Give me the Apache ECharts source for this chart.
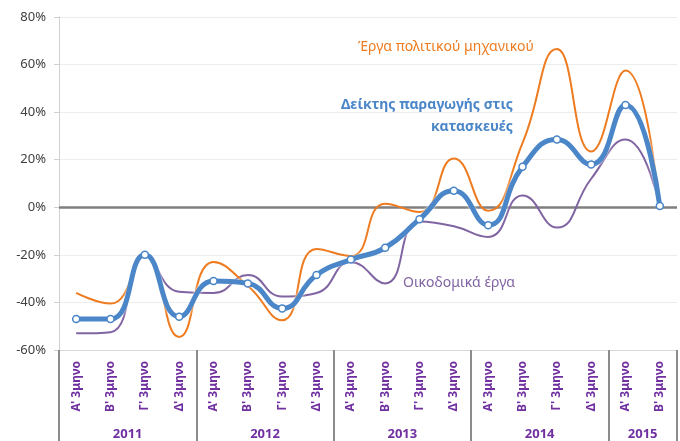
<!DOCTYPE html>
<html>
<head>
<meta charset="utf-8">
<script src="https://cdn.jsdelivr.net/npm/echarts@6/dist/echarts.min.js"></script>
<style>
  html, body { margin: 0; padding: 0; background: #fff; }
  #chart { width: 680px; height: 441px; }
</style>
</head>
<body>
<div id="chart"></div>
<script>
// κατηγορίες (τρίμηνα 2011 - 2015)
var categories = [
  "Α' 3μηνο", "Β' 3μηνο", "Γ' 3μηνο", "Δ' 3μηνο",
  "Α' 3μηνο", "Β' 3μηνο", "Γ' 3μηνο", "Δ' 3μηνο",
  "Α' 3μηνο", "Β' 3μηνο", "Γ' 3μηνο", "Δ' 3μηνο",
  "Α' 3μηνο", "Β' 3μηνο", "Γ' 3μηνο", "Δ' 3μηνο",
  "Α' 3μηνο", "Β' 3μηνο"
];
var years = ["2011", "2012", "2013", "2014", "2015"];
var quartersPerYear = [4, 4, 4, 4, 2];

// τιμές (%)
var indexValues = [-47, -47, -20, -46, -31, -32, -42.5, -28.5, -22, -17, -5, 7, -7.5, 17, 28.5, 18, 43, 0.5];
var civilValues = [-36, -40.5, -20.5, -54.5, -23, -33, -47.5, -17.5, -20.5, 1.5, -2, 20.5, -1.5, 27, 66.5, 23.5, 57.5, -1];
var buildingValues = [-53, -52.5, -20, -35.5, -36, -28.5, -37.5, -36, -23, -32, -6, -8, -12.5, 5, -8.5, 12, 28.5, 0];

var yTicks = { min: -60, max: 80, step: 20 };

// κέντρα ετών πάνω στον άξονα 0..18
var yearCenter = {};
var start = 0;
for (var i = 0; i < years.length; i++) {
  yearCenter[start + quartersPerYear[i] / 2] = years[i];
  start += quartersPerYear[i];
}
// όρια ετών (διαχωριστικές γραμμές)
var boundaries = {};
start = 0;
boundaries[0] = true;
for (var j = 0; j < quartersPerYear.length; j++) {
  start += quartersPerYear[j];
  boundaries[start] = true;
}

var purple = "#7030A0";
var font = "'Noto Sans', 'DejaVu Sans', sans-serif";

var chart = echarts.init(document.getElementById("chart"));
chart.setOption({
  animation: false,
  textStyle: { fontFamily: font },
  grid: { left: 59, right: 1, top: 17, bottom: 91, containLabel: false },
  xAxis: [
    {
      type: "category",
      data: categories,
      boundaryGap: true,
      axisLine: { show: true, onZero: false, lineStyle: { color: "#d9d9d9", width: 1 } },
      axisTick: {
        show: true,
        length: 92,
        interval: function (idx) { return !!boundaries[idx]; },
        lineStyle: { color: "#8c8c8c", width: 2 }
      },
      axisLabel: {
        rotate: 90,
        interval: 0,
        margin: 11,
        color: purple,
        fontWeight: "bold",
        fontSize: 12,
        fontFamily: font
      }
    },
    {
      type: "value",
      position: "bottom",
      min: 0,
      max: categories.length,
      interval: 1,
      axisLine: { show: false, onZero: false },
      axisTick: { show: false },
      splitLine: { show: false },
      axisLabel: {
        margin: 78,
        color: purple,
        fontWeight: "bold",
        fontSize: 13,
        fontFamily: font,
        showMinLabel: true,
        showMaxLabel: true,
        formatter: function (v) { return yearCenter[v] || ""; }
      }
    }
  ],
  yAxis: {
    type: "value",
    min: yTicks.min,
    max: yTicks.max,
    interval: yTicks.step,
    axisLine: { show: true, lineStyle: { color: "#d0d0d0", width: 1 } },
    axisTick: { show: true, length: 5, lineStyle: { color: "#d0d0d0" } },
    axisLabel: {
      color: "#404040",
      fontSize: 13,
      margin: 13,
      fontFamily: font,
      formatter: function (v) { return v + "%"; }
    },
    splitLine: { show: true, lineStyle: { color: "#ececec", width: 1 } }
  },
  series: [
    {
      name: "Οικοδομικά έργα",
      type: "line",
      data: buildingValues,
      smooth: 0.5,
      showSymbol: false,
      z: 2,
      lineStyle: { color: "#8064A2", width: 2 },
      itemStyle: { color: "#8064A2" }
    },
    {
      name: "Έργα πολιτικού μηχανικού",
      type: "line",
      data: civilValues,
      smooth: 0.5,
      showSymbol: false,
      z: 3,
      lineStyle: { color: "#EE7B1F", width: 2 },
      itemStyle: { color: "#EE7B1F" },
      markLine: {
        silent: true,
        symbol: "none",
        label: { show: false },
        lineStyle: { color: "#7f7f7f", width: 2.5, type: "solid" },
        data: [{ yAxis: 0 }],
        z: 1
      }
    },
    {
      name: "Δείκτης παραγωγής στις κατασκευές",
      type: "line",
      data: indexValues,
      smooth: 0.5,
      symbol: "circle",
      symbolSize: 7,
      z: 4,
      lineStyle: {
        color: "#4A86C8",
        width: 5,
        shadowColor: "rgba(255,255,255,0.9)",
        shadowBlur: 3
      },
      itemStyle: { color: "#ffffff", borderColor: "#4A86C8", borderWidth: 1.5 }
    }
  ],
  graphic: [
    {
      type: "text",
      left: 358, top: 40, z: 100,
      style: { text: "Έργα πολιτικού μηχανικού", fill: "#EE7B1F", font: "14px " + font }
    },
    {
      type: "text",
      right: 167, top: 98, z: 100,
      style: { text: "Δείκτης παραγωγής στις", fill: "#4A86C8", font: "bold 14px " + font }
    },
    {
      type: "text",
      right: 167, top: 120, z: 100,
      style: { text: "κατασκευές", fill: "#4A86C8", font: "bold 14px " + font }
    },
    {
      type: "text",
      left: 403, top: 276, z: 100,
      style: { text: "Οικοδομικά έργα", fill: "#8064A2", font: "14px " + font }
    }
  ]
});
</script>
</body>
</html>
